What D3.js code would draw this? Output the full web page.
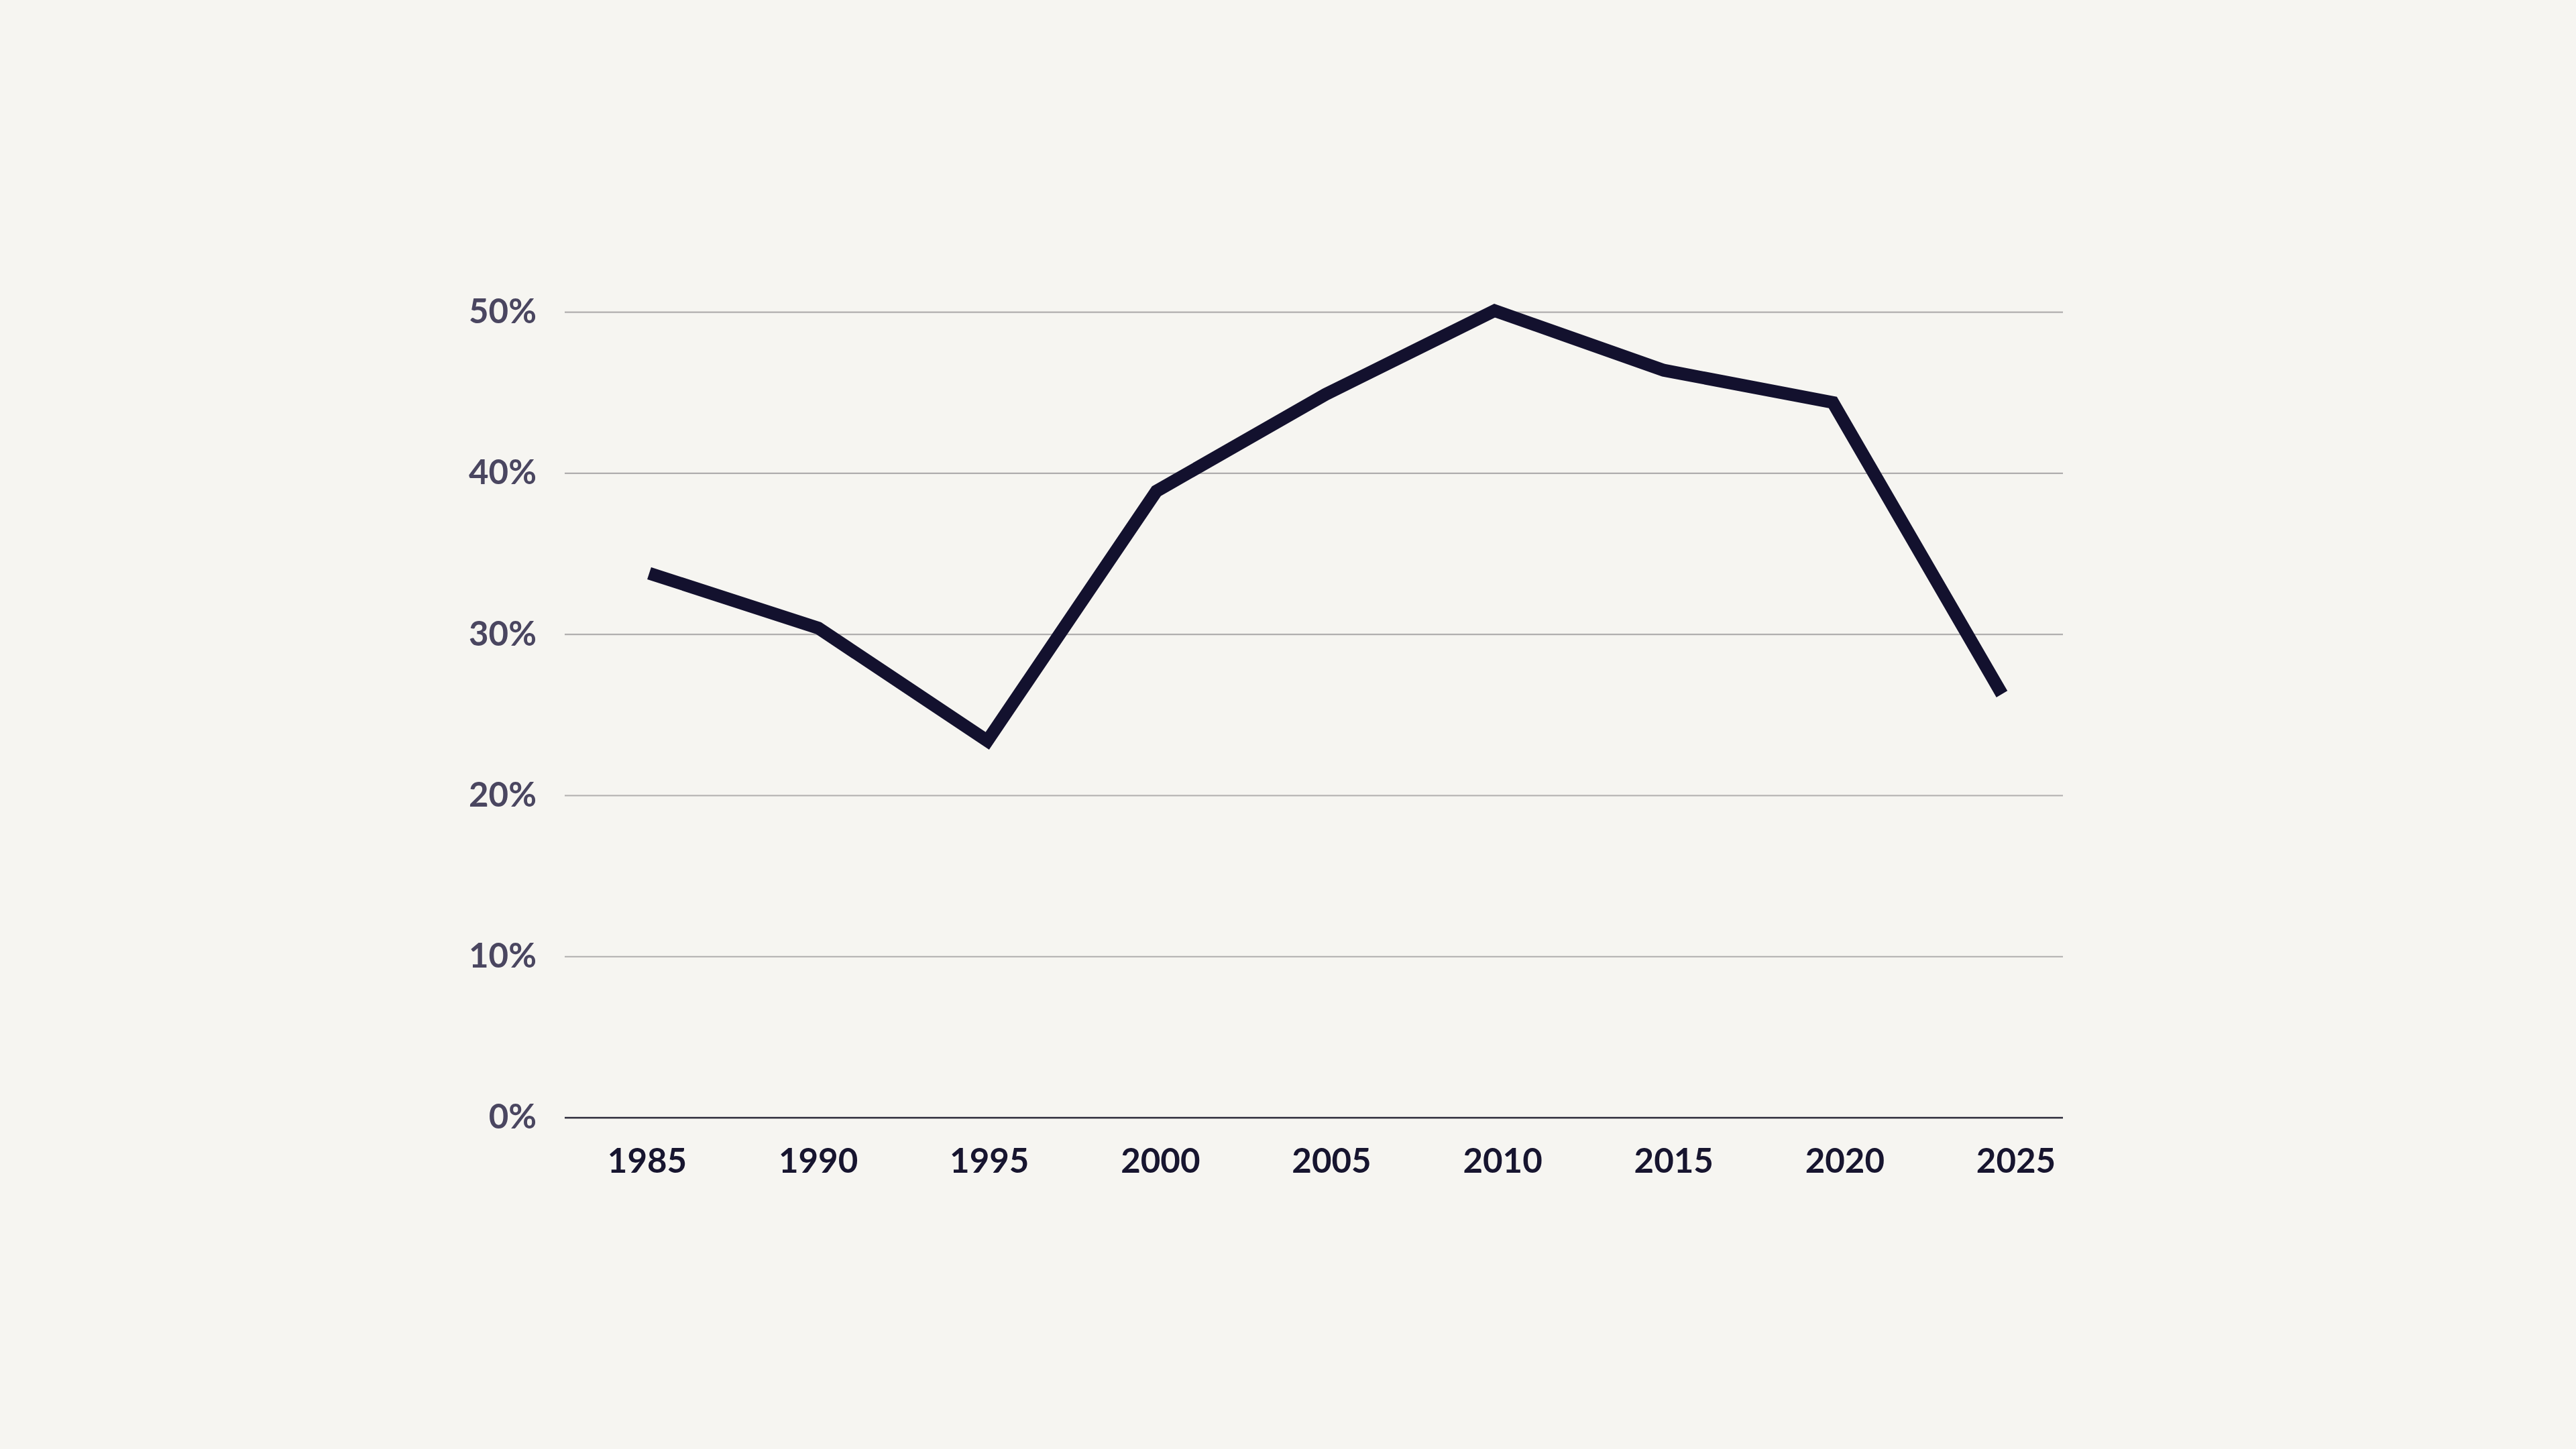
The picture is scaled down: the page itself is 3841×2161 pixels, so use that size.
<!DOCTYPE html>
<html>
<head>
<meta charset="utf-8">
<script src="https://cdn.jsdelivr.net/npm/d3@7"></script>
<style>
  html, body { margin: 0; padding: 0; background: #f6f5f1; }
  svg { display: block; }
</style>
</head>
<body>
<svg id="chart" width="3841" height="2161"></svg>
<script>
// ---- data ----
const years = [1985, 1990, 1995, 2000, 2005, 2010, 2015, 2020, 2025];
const values = [33.8, 30.4, 23.4, 38.9, 44.9, 50.1, 46.4, 44.4, 26.3];
const yTicks = [0, 10, 20, 30, 40, 50];
const xTickLabels = ["1985", "1990", "1995", "2000", "2005", "2010", "2015", "2020", "2025"];

// ---- layout ----
const W = 3841, H = 2161;
const plot = { left: 842, right: 3076, top: 465.7, bottom: 1667 };

const svg = d3.select("#chart");
svg.append("rect").attr("width", W).attr("height", H).attr("fill", "#f6f5f1");

const y = d3.scaleLinear().domain([0, 50]).range([plot.bottom, plot.top]);
const xLabels = d3.scalePoint().domain(xTickLabels).range([965, 3006]);
const xLine = d3.scaleLinear().domain([1985, 2025]).range([968, 2985]);

// gridlines
const grid = svg.append("g");
grid.selectAll("line")
  .data(yTicks.filter(d => d !== 0))
  .join("line")
  .attr("x1", plot.left).attr("x2", plot.right)
  .attr("y1", d => y(d)).attr("y2", d => y(d))
  .attr("stroke", "#b0aeae")
  .attr("stroke-width", 2.2);

// baseline axis
svg.append("line")
  .attr("x1", plot.left).attr("x2", plot.right)
  .attr("y1", y(0)).attr("y2", y(0))
  .attr("stroke", "#2b2939")
  .attr("stroke-width", 2.6);

// y labels
svg.append("g").selectAll("text")
  .data(yTicks)
  .join("text")
  .attr("x", 800)
  .attr("y", d => y(d))
  .attr("dy", "0.32em")
  .attr("text-anchor", "end")
  .attr("font-family", "Lato, 'Noto Sans', sans-serif")
  .attr("font-weight", 700)
  .attr("font-size", 51)
  .attr("fill", "#4a4660")
  .text(d => d + "%");

// x labels
svg.append("g").selectAll("text")
  .data(xTickLabels)
  .join("text")
  .attr("x", d => xLabels(d))
  .attr("y", y(0) + 82)
  .attr("text-anchor", "middle")
  .attr("font-family", "Lato, 'Noto Sans', sans-serif")
  .attr("font-weight", 700)
  .attr("font-size", 51)
  .attr("fill", "#17152f")
  .text(d => d);

// line
const line = d3.line()
  .x((d, i) => xLine(years[i]))
  .y(d => y(d));

svg.append("path")
  .datum(values)
  .attr("d", line)
  .attr("fill", "none")
  .attr("stroke", "#13112e")
  .attr("stroke-width", 19)
  .attr("stroke-linejoin", "miter")
  .attr("stroke-linecap", "butt");
</script>
</body>
</html>
